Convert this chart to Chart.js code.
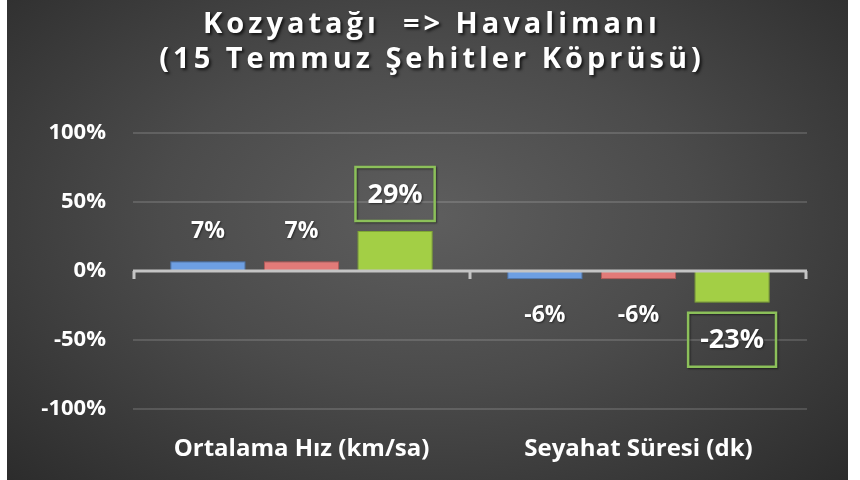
<!DOCTYPE html>
<html lang="tr">
<head>
<meta charset="utf-8">
<script src="https://cdn.jsdelivr.net/npm/chart.js@4.4.1/dist/chart.umd.min.js"></script>
<style>
  html, body { margin: 0; padding: 0; background: #fff; }
  #wrap { position: relative; width: 860px; height: 480px; }
  #bg {
    position: absolute; left: 7px; top: 0; width: 841px; height: 480px;
    background: radial-gradient(ellipse at 50% 45%, #5e5e5e 0%, #4b4b4b 45%, #2c2c2c 100%);
  }
  #chart { position: absolute; left: 0; top: 0; }
</style>
</head>
<body>
<div id="wrap">
  <div id="bg"></div>
  <canvas id="chart" width="860" height="480"></canvas>
</div>
<script>
// Başlık ve kategoriler
const titleLines = ['Kozyatağı  => Havalimanı', '(15 Temmuz Şehitler Köprüsü)'];
const categories = ['Ortalama Hız (km/sa)', 'Seyahat Süresi (dk)'];

// Seri değerleri (%)
const seriesBlue = [7, -6];
const seriesRed = [7, -6];
const seriesGreen = [29, -23];

// Y ekseni
const yMin = -100;
const yMax = 100;
const yStep = 50;

const FONT = '"Open Sans", sans-serif';

// Başlık (harf aralıklı)
const titlePlugin = {
  id: 'spacedTitle',
  afterDraw(chart) {
    const c = chart.ctx;
    c.save();
    c.font = 'bold 29px ' + FONT;
    c.letterSpacing = '4px';
    c.fillStyle = '#ffffff';
    c.textAlign = 'center';
    c.textBaseline = 'alphabetic';
    c.shadowColor = 'rgba(0,0,0,0.7)';
    c.shadowBlur = 3;
    c.shadowOffsetX = 2;
    c.shadowOffsetY = 2;
    c.fillText(titleLines[0], 432, 33);
    c.fillText(titleLines[1], 432, 68);
    c.restore();
  }
};

// Sıfır ekseni ve çentikler, veri etiketleri
const axisAndLabels = {
  id: 'axisAndLabels',
  afterDatasetsDraw(chart) {
    const c = chart.ctx;
    const x = chart.scales.x;
    const y = chart.scales.y;
    const y0 = y.getPixelForValue(0);
    const mid = (x.getPixelForValue(0) + x.getPixelForValue(1)) / 2;

    c.save();
    c.strokeStyle = '#c4c4c4';
    c.lineWidth = 3;
    c.beginPath();
    c.moveTo(x.left, y0);
    c.lineTo(x.right, y0);
    [x.left + 1, mid, x.right - 1].forEach(px => {
      c.moveTo(px, y0);
      c.lineTo(px, y0 + 8);
    });
    c.stroke();

    c.fillStyle = '#ffffff';
    c.textAlign = 'center';
    c.textBaseline = 'middle';
    c.shadowColor = 'rgba(0,0,0,0.5)';
    c.shadowBlur = 2;
    c.shadowOffsetX = 1;
    c.shadowOffsetY = 1;
    chart.data.datasets.forEach((ds, i) => {
      const meta = chart.getDatasetMeta(i);
      meta.data.forEach((bar, j) => {
        const v = ds.data[j];
        const top = Math.min(bar.y, bar.base);
        const bottom = Math.max(bar.y, bar.base);
        const text = v + '%';
        if (ds.boxed) {
          c.font = 'bold 27px ' + FONT;
          const cy = v >= 0 ? top - 37 : bottom + 37;
          const w = c.measureText(text).width + 24;
          const h = 54;
          c.strokeStyle = '#8cc05a';
          c.lineWidth = 2.5;
          c.strokeRect(bar.x - w / 2, cy - h / 2, w, h);
          c.fillText(text, bar.x, cy + 1);
        } else {
          c.font = 'bold 23px ' + FONT;
          const cy = v >= 0 ? top - 30 : bottom + 36;
          c.fillText(text, bar.x, cy);
        }
      });
    });
    c.restore();
  }
};

const ctx = document.getElementById('chart').getContext('2d');

new Chart(ctx, {
  type: 'bar',
  data: {
    labels: categories,
    datasets: [
      {
        label: 'Seri 1',
        data: seriesBlue,
        backgroundColor: '#6d9fe3',
        borderColor: '#4a78b8',
        borderWidth: 1
      },
      {
        label: 'Seri 2',
        data: seriesRed,
        backgroundColor: '#e27a78',
        borderColor: '#b85553',
        borderWidth: 1
      },
      {
        label: 'Seri 3',
        data: seriesGreen,
        backgroundColor: '#a3cf45',
        borderColor: '#7fa833',
        borderWidth: 1,
        boxed: true
      }
    ]
  },
  options: {
    responsive: false,
    animation: false,
    categoryPercentage: 0.833,
    barPercentage: 0.806,
    layout: { padding: { top: 133, right: 53, bottom: 0, left: 0 } },
    plugins: {
      legend: { display: false },
      title: { display: false },
      tooltip: { enabled: false }
    },
    scales: {
      x: {
        grid: { display: false },
        border: { display: false },
        ticks: {
          color: '#ffffff',
          padding: 18,
          font: { family: FONT, size: 24, weight: 'bold' }
        },
        afterFit(scale) { scale.height = 71; }
      },
      y: {
        min: yMin,
        max: yMax,
        grid: {
          drawTicks: false,
          color: c => c.tick.value === 0 ? 'rgba(0,0,0,0)' : 'rgba(255,255,255,0.14)',
          lineWidth: 2
        },
        border: { display: false },
        ticks: {
          stepSize: yStep,
          color: '#ffffff',
          padding: 27,
          font: { family: FONT, size: 22, weight: 'bold' },
          callback: v => v + '%'
        },
        afterFit(scale) { scale.width = 133; }
      }
    }
  },
  plugins: [titlePlugin, axisAndLabels]
});
</script>
</body>
</html>
